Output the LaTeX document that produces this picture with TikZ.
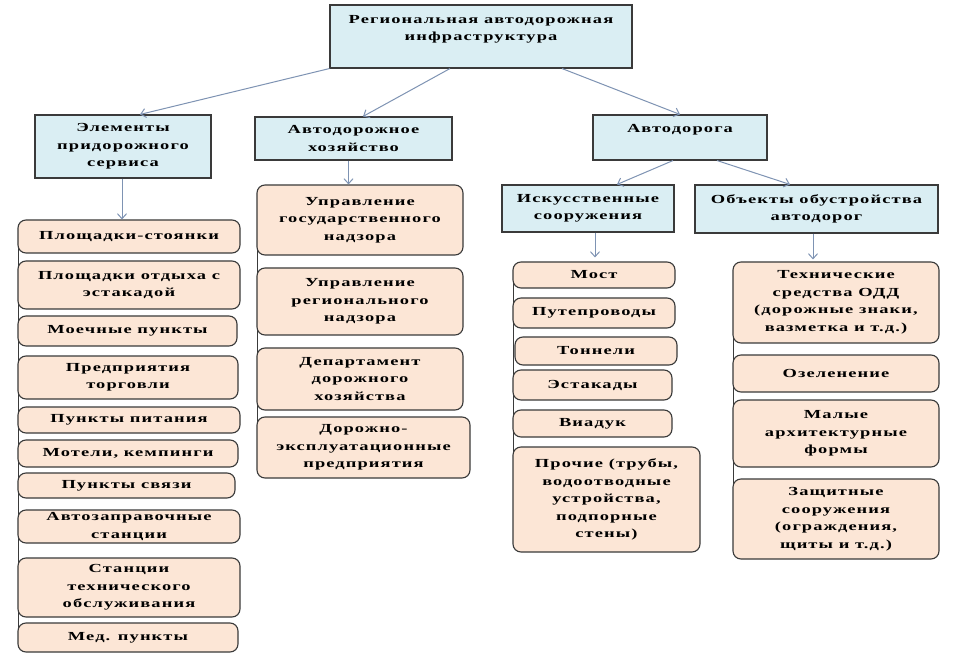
\documentclass[tikz,border=0pt]{standalone}
\usepackage{fontspec}
\setmainfont{Liberation Serif}[FakeStretch=1.5,LetterSpace=9]
\usetikzlibrary{arrows.meta}
\definecolor{hbfill}{HTML}{DAEEF3}
\definecolor{itfill}{HTML}{FCE6D6}
\definecolor{edgec}{HTML}{3A3A3A}
\definecolor{arrc}{HTML}{7E93B3}
\newcommand\boxfont{\fontsize{12.3}{17.5}\selectfont\bfseries}
\newcommand\bx[7]{%
  \pgfmathsetmacro\bw{#5-#3}\pgfmathsetmacro\bh{#6-#4}%
  \node[#2, minimum width=\bw pt, minimum height=\bh pt] (#1) at ({(#3+#5)/2},{(#4+#6)/2}) {#7};}
\begin{document}
\begin{tikzpicture}[x=1pt,y=-1pt,
  head/.style={draw=edgec, line width=1.1pt, fill=hbfill, align=center, inner sep=0pt, font=\boxfont},
  item/.style={draw=edgec, line width=1.1pt, fill=itfill, rounded corners=8pt, align=center, inner sep=0pt, font=\boxfont},
  conn/.style={draw=arrc, line width=1pt, -{Straight Barb[length=5pt,width=9pt]}},
  rail/.style={draw=edgec, line width=1pt}]
\useasboundingbox[fill=white] (0,0) rectangle (964,660);
% heads
\bx{top}{head}{330}{5}{632}{68}{Региональная автодорожная\\инфраструктура\\~}
\bx{el}{head}{35}{115}{211}{178}{Элементы\\придорожного\\сервиса}
\bx{ah}{head}{255}{117}{452}{160}{Автодорожное\\хозяйство}
\bx{ad}{head}{593}{115}{767}{160}{Автодорога\\~}
\bx{isk}{head}{502}{185}{674}{232}{Искусственные\\сооружения}
\bx{obj}{head}{695}{185}{938}{233}{Объекты обустройства\\автодорог}
% rails
\coordinate (lr1) at (18,226); \coordinate (lr2) at (18,646);
\coordinate (mr1) at (257,192); \coordinate (mr2) at (257,470);
\coordinate (rr1) at (513,268); \coordinate (rr2) at (513,540);
\coordinate (tr1) at (733,270); \coordinate (tr2) at (733,550);
\draw[rail] (lr1) -- (lr2);
\draw[rail] (mr1) -- (mr2);
\draw[rail] (rr1) -- (rr2);
\draw[rail] (tr1) -- (tr2);
% left column
\bx{i1}{item}{18}{220}{240}{253}{Площадки-стоянки}
\bx{i2}{item}{18}{261}{240}{309}{Площадки отдыха с\\эстакадой}
\bx{i3}{item}{18}{316}{237}{346}{Моечные пункты}
\bx{i4}{item}{18}{356}{238}{399}{Предприятия\\торговли}
\bx{i5}{item}{18}{407}{240}{433}{Пункты питания}
\bx{i6}{item}{18}{440}{238}{467}{Мотели, кемпинги}
\bx{i7}{item}{18}{473}{235}{498}{Пункты связи}
\bx{i8}{item}{18}{510}{240}{543}{Автозаправочные\\станции}
\bx{i9}{item}{18}{558}{240}{617}{Станции\\технического\\обслуживания}
\bx{i10}{item}{18}{623}{238}{652}{Мед. пункты}
% middle column
\bx{m1}{item}{257}{185}{463}{255}{Управление\\государственного\\надзора}
\bx{m2}{item}{257}{268}{463}{335}{Управление\\регионального\\надзора}
\bx{m3}{item}{257}{348}{463}{410}{Департамент\\дорожного\\хозяйства}
\bx{m4}{item}{257}{417}{470}{478}{Дорожно-\\эксплуатационные\\предприятия}
% structures column
\bx{r1}{item}{513}{262}{675}{288}{Мост}
\bx{r2}{item}{513}{298}{675}{328}{Путепроводы}
\bx{r3}{item}{515}{337}{677}{365}{Тоннели}
\bx{r4}{item}{513}{370}{672}{400}{Эстакады}
\bx{r5}{item}{513}{410}{672}{437}{Виадук}
\bx{r6}{item}{513}{447}{700}{552}{Прочие (трубы,\\водоотводные\\устройства,\\подпорные\\стены)}
% right column
\bx{t1}{item}{733}{262}{939}{343}{Технические\\средства ОДД\\(дорожные знаки,\\вазметка и т.д.)}
\bx{t2}{item}{733}{355}{939}{392}{Озеленение}
\bx{t3}{item}{733}{400}{939}{467}{Малые\\архитектурные\\формы}
\bx{t4}{item}{733}{479}{939}{559}{Защитные\\сооружения\\(ограждения,\\щиты и т.д.)}
% connectors
\draw[conn] (top.south west) -- ([xshift=17pt]el.north);
\draw[conn] ([xshift=-31pt]top.south) -- ([xshift=9.5pt]ah.north);
\draw[conn] ([xshift=81pt]top.south) -- (ad.north);
\draw[conn] ([xshift=-7pt]ad.south) -- ([xshift=29pt]isk.north);
\draw[conn] ([xshift=37pt]ad.south) -- ([xshift=-26.5pt]obj.north);
\draw[conn] ([xshift=-1pt]el.south) -- ([xshift=-1pt]el.south |- i1.north);
\draw[conn] ([xshift=-5pt]ah.south) -- ([xshift=-5pt]ah.south |- m1.north);
\draw[conn] ([xshift=7pt]isk.south) -- ([xshift=7pt,yshift=4pt]isk.south |- r1.north);
\draw[conn] ([xshift=-3.5pt]obj.south) -- ([xshift=-3.5pt,yshift=2pt]obj.south |- t1.north);
\end{tikzpicture}
\end{document}
